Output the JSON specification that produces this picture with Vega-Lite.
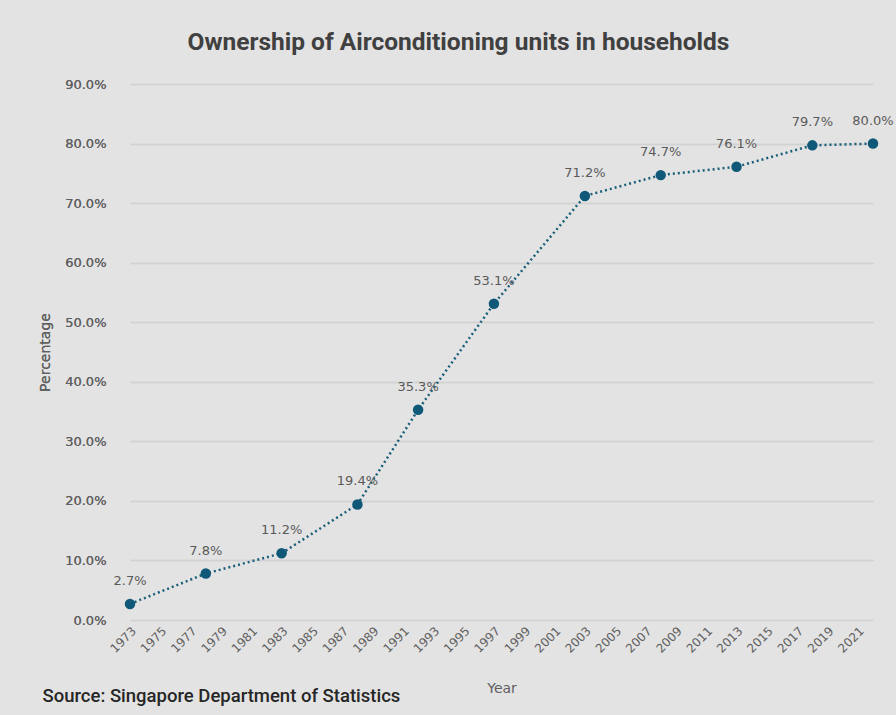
{
  "$schema": "https://vega.github.io/schema/vega-lite/v6.json",
  "width": 743,
  "height": 536,
  "autosize": "none",
  "padding": {"left": 130, "top": 84, "right": 23, "bottom": 95},
  "background": "#e3e3e3",
  "title": {
    "text": "Ownership of Airconditioning units in households",
    "font": "Roboto",
    "fontSize": 24.5,
    "fontWeight": "bold",
    "color": "#404040",
    "anchor": "middle",
    "dx": -43,
    "offset": 23
  },
  "data": {
    "values": [
      {"year": 1973, "pct": 0.027},
      {"year": 1978, "pct": 0.078},
      {"year": 1983, "pct": 0.112},
      {"year": 1988, "pct": 0.194},
      {"year": 1992, "pct": 0.353},
      {"year": 1997, "pct": 0.531},
      {"year": 2003, "pct": 0.712},
      {"year": 2008, "pct": 0.747},
      {"year": 2013, "pct": 0.761},
      {"year": 2018, "pct": 0.797},
      {"year": 2022, "pct": 0.800}
    ]
  },
  "encoding": {
    "x": {
      "field": "year",
      "type": "quantitative",
      "scale": {"domain": [1973, 2022], "nice": false, "zero": false},
      "axis": {
        "title": "Year",
        "values": [1973, 1975, 1977, 1979, 1981, 1983, 1985, 1987, 1989, 1991, 1993, 1995, 1997, 1999, 2001, 2003, 2005, 2007, 2009, 2011, 2013, 2015, 2017, 2019, 2021],
        "format": "d",
        "labelAngle": -45,
        "labelAlign": "right",
        "labelBaseline": "top",
        "labelPadding": 5,
        "labelFont": "DejaVu Sans",
        "labelFontSize": 12,
        "labelColor": "#606060",
        "labelOverlap": false,
        "labelBound": false,
        "labelFlush": false,
        "grid": false,
        "ticks": false,
        "domain": false,
        "titleFont": "DejaVu Sans",
        "titleFontSize": 14,
        "titleFontWeight": "normal",
        "titleColor": "#606060",
        "titleY": 68,
        "titleBaseline": "middle"
      }
    },
    "y": {
      "field": "pct",
      "type": "quantitative",
      "scale": {"domain": [0, 0.9], "nice": false},
      "axis": {
        "title": "Percentage",
        "format": ".1%",
        "values": [0, 0.1, 0.2, 0.3, 0.4, 0.5, 0.6, 0.7, 0.8, 0.9],
        "labelPadding": 24,
        "labelFont": "DejaVu Sans",
        "labelFontSize": 13,
        "labelColor": "#606060",
        "grid": true,
        "gridColor": "#d2d2d2",
        "gridWidth": 1.5,
        "ticks": false,
        "domain": false,
        "titleFont": "DejaVu Sans",
        "titleFontSize": 14,
        "titleFontWeight": "normal",
        "titleColor": "#606060",
        "titleX": -85,
        "titleY": 268,
        "titleAngle": -90,
        "titleAlign": "center",
        "titleBaseline": "middle"
      }
    }
  },
  "layer": [
    {
      "mark": {"type": "line", "color": "#1a5f7a", "strokeWidth": 2.5, "strokeDash": [2, 3]}
    },
    {
      "mark": {"type": "point", "filled": true, "size": 110, "color": "#0f5878", "opacity": 1},
      "encoding": {
        "y": {
          "field": "pct",
          "type": "quantitative",
          "axis": {
            "orient": "right",
            "title": "Source: Singapore Department of Statistics",
            "labels": false,
            "ticks": false,
            "domain": false,
            "grid": false,
            "titleAngle": 0,
            "titleFont": "Roboto",
            "titleFontSize": 18.5,
            "titleFontWeight": 500,
            "titleColor": "#262626",
            "titleX": -831,
            "titleY": 611,
            "titleAlign": "left",
            "titleBaseline": "middle"
          }
        }
      }
    },
    {
      "mark": {"type": "text", "dy": -23, "font": "DejaVu Sans", "fontSize": 13, "color": "#5a5a5a"},
      "encoding": {
        "text": {"field": "pct", "type": "quantitative", "format": ".1%"}
      }
    }
  ],
  "resolve": {"axis": {"y": "independent"}},
  "config": {"view": {"stroke": null}}
}
